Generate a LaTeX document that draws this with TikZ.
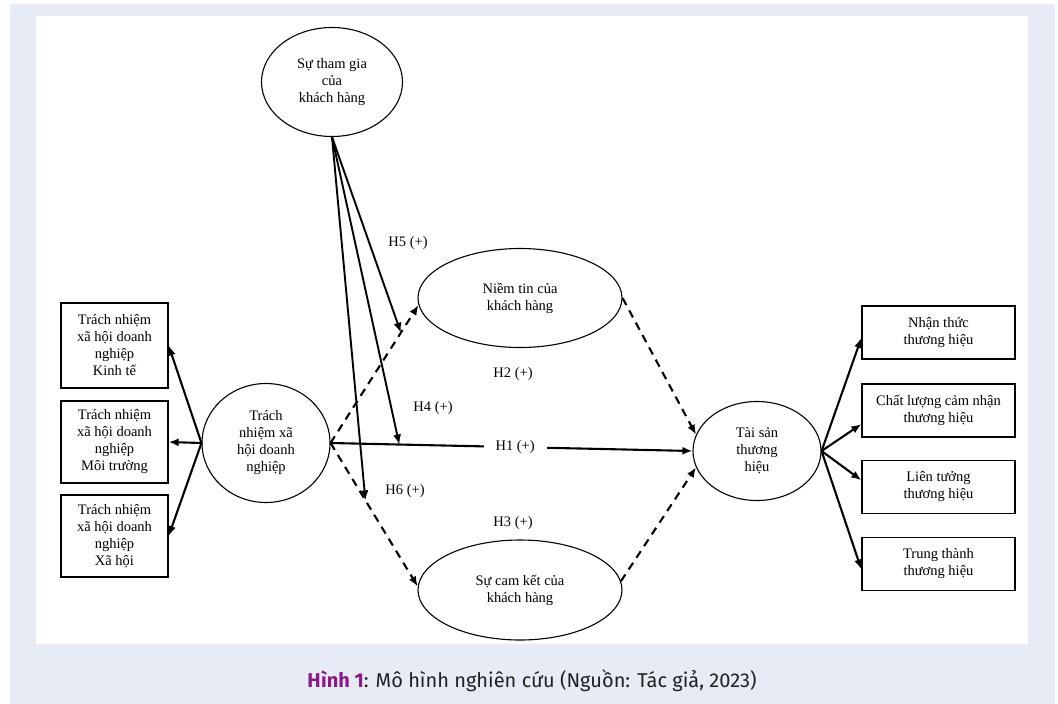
\documentclass[tikz,border=0pt]{standalone}
\usepackage{fontspec}
\setmainfont{Liberation Serif}
\newfontfamily\captionfont{Fira Sans}
\usetikzlibrary{shapes.geometric,arrows.meta,calc}

\newlength{\du}
\setlength{\du}{1pt}

\definecolor{panelcolor}{rgb}{0.906000, 0.922000, 0.961000}
\definecolor{figurecolor}{rgb}{0.545000, 0.102000, 0.537000}
\definecolor{captioncolor}{rgb}{0.130000, 0.130000, 0.130000}

\tikzset{
  construct/.style={draw, ellipse, line width=1.1pt, inner sep=0pt, align=center,
    font=\fontsize{14.5}{17}\selectfont},
  itembox/.style={draw, rectangle, line width=1.3pt, inner sep=0pt, align=center,
    font=\fontsize{14.5}{17}\selectfont},
  hyplabel/.style={inner sep=1pt, font=\fontsize{14.5}{17}\selectfont},
  link/.style={line width=2.1pt, -{Latex[length=10pt,width=8pt]}},
  dashlink/.style={link, dash pattern=on 8pt off 6pt},
  modlink/.style={line width=1.9pt, -{Latex[length=10pt,width=8pt]}}
}

\begin{document}
\begin{tikzpicture}
\pgftransformyscale{-1.000000}
\useasboundingbox (0\du,0\du) rectangle (1058\du,704\du);
\fill[panelcolor] (10\du,4\du) rectangle (1055\du,704\du);
\fill[white] (36\du,16\du) rectangle (1028\du,644\du);

% constructs
\node[construct, minimum width=141\du, minimum height=109\du] (part) at (332\du,82\du) {Sự tham gia\\của\\khách hàng};
\node[construct, minimum width=128\du, minimum height=119\du] (csr) at (266\du,443\du) {Trách\\nhiệm xã\\hội doanh\\nghiệp};
\node[construct, minimum width=204\du, minimum height=99\du] (trust) at (520\du,298\du) {Niềm tin của\\khách hàng};
\node[construct, minimum width=204\du, minimum height=100\du] (commit) at (520\du,590\du) {Sự cam kết của\\khách hàng};
\node[construct, minimum width=128\du, minimum height=99\du] (equity) at (757\du,451\du) {Tài sản\\thương\\hiệu};

% left boxes
\node[itembox, minimum width=107\du, minimum height=85\du] (econ) at (114.5\du,345.5\du) {Trách nhiệm\\xã hội doanh\\nghiệp\\Kinh tế};
\node[itembox, minimum width=107\du, minimum height=82\du] (env) at (114.5\du,442\du) {Trách nhiệm\\xã hội doanh\\nghiệp\\Môi trường};
\node[itembox, minimum width=107\du, minimum height=82\du] (soc) at (114.5\du,536\du) {Trách nhiệm\\xã hội doanh\\nghiệp\\Xã hội};

% right boxes
\node[itembox, minimum width=153\du, minimum height=53\du] (aware) at (938.5\du,332.5\du) {Nhận thức\\thương hiệu};
\node[itembox, minimum width=153\du, minimum height=53\du] (quality) at (938.5\du,410.5\du) {Chất lượng cảm nhận\\thương hiệu};
\node[itembox, minimum width=153\du, minimum height=53\du] (assoc) at (938.5\du,487\du) {Liên tưởng\\thương hiệu};
\node[itembox, minimum width=153\du, minimum height=53\du] (loyal) at (938.5\du,564\du) {Trung thành\\thương hiệu};

\draw[link] (csr.west) -- (econ.east);
\draw[link] (csr.west) -- (env.east);
\draw[link] (csr.west) -- (soc.east);

\draw[link] (equity.east) -- (aware.184);
\draw[link] (equity.east) -- (quality.190);
\draw[link] (equity.east) -- (assoc.175);
\draw[link] (equity.east) -- (loyal.184);

% hypotheses
\draw[dashlink] (csr.east) -- (trust.184);
\draw[dashlink] (csr.east) -- (commit.178);
\draw[dashlink] (trust.east) -- (equity.165);
\draw[dashlink] (commit.5) -- (equity.195);
\draw[link] (csr.east) -- node[hyplabel, fill=white, inner xsep=12pt, pos=0.51] (h1) {H1 (+)} (equity.west);

% moderation
\coordinate (m5) at ($(csr.east)!0.8!(trust.184)$);
\coordinate (m4) at ($(csr.east)!0.19!(equity.west)$);
\coordinate (m6) at ($(csr.east)!0.4!(commit.178)$);
\draw[modlink] (part.south) -- (m5);
\draw[modlink] (part.south) -- (m4);
\draw[modlink] (part.south) -- (m6);

\node[hyplabel] (h5) at (408\du,243\du) {H5 (+)};
\node[hyplabel] (h2) at (513\du,374\du) {H2 (+)};
\node[hyplabel] (h4) at (433\du,408\du) {H4 (+)};
\node[hyplabel] (h6) at (405\du,491\du) {H6 (+)};
\node[hyplabel] (h3) at (513\du,523\du) {H3 (+)};

% caption
\node[anchor=base, inner sep=0pt, font=\captionfont\fontsize{20}{23}\selectfont, text=captioncolor] (caption) at (532\du,687\du) {\textcolor{figurecolor}{\bfseries Hình 1}: Mô hình nghiên cứu (Nguồn: Tác giả, 2023)};
\end{tikzpicture}
\end{document}
